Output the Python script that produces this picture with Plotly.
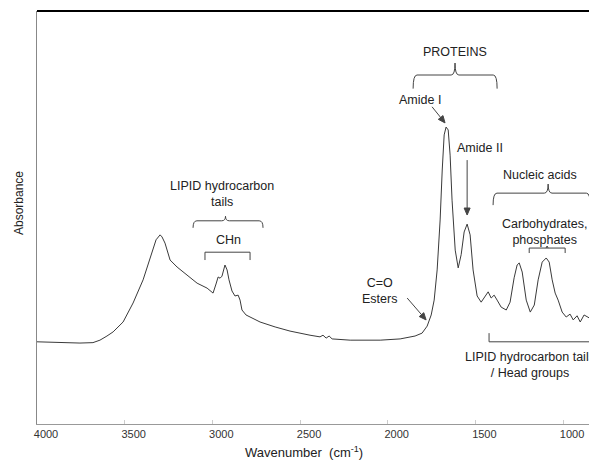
import math
import plotly.graph_objects as go

# FTIR absorbance spectrum (wavenumber in cm-1, absorbance in arbitrary units)
wavenumber = [4000, 3869, 3755, 3681, 3641, 3601, 3566, 3509, 3452, 3395, 3344, 3321, 3298,
              3287, 3270, 3241, 3201, 3144, 3087, 3030, 2996, 2979, 2967, 2956, 2945, 2928,
              2916, 2905, 2888, 2871, 2853, 2842, 2831, 2808, 2785, 2728, 2642, 2557, 2443,
              2386, 2369, 2351, 2334, 2317, 2214, 2043, 1929, 1844, 1804, 1775, 1752, 1735,
              1718, 1701, 1689, 1678, 1667, 1655, 1644, 1633, 1615, 1598, 1581, 1564, 1547,
              1530, 1513, 1490, 1467, 1444, 1427, 1410, 1393, 1376, 1353, 1324, 1302, 1279,
              1262, 1250, 1233, 1210, 1187, 1164, 1142, 1119, 1096, 1079, 1062, 1045, 1028,
              1005, 982, 960, 942, 920, 902, 880, 851]
absorbance = [0.199, 0.197, 0.196, 0.197, 0.203, 0.213, 0.223, 0.247, 0.293, 0.349, 0.414,
              0.446, 0.458, 0.453, 0.438, 0.397, 0.380, 0.361, 0.341, 0.329, 0.317, 0.339,
              0.356, 0.353, 0.358, 0.385, 0.373, 0.349, 0.322, 0.310, 0.312, 0.300, 0.276,
              0.264, 0.259, 0.247, 0.235, 0.225, 0.215, 0.211, 0.215, 0.208, 0.213, 0.206,
              0.203, 0.203, 0.206, 0.213, 0.220, 0.237, 0.264, 0.300, 0.373, 0.494, 0.615,
              0.700, 0.719, 0.712, 0.651, 0.542, 0.421, 0.378, 0.410, 0.465, 0.484, 0.458,
              0.373, 0.310, 0.295, 0.310, 0.320, 0.305, 0.312, 0.300, 0.283, 0.276, 0.295,
              0.354, 0.385, 0.390, 0.368, 0.300, 0.271, 0.288, 0.349, 0.392, 0.402, 0.392,
              0.349, 0.317, 0.300, 0.271, 0.259, 0.266, 0.252, 0.262, 0.247, 0.264, 0.257]

tick_values = [4000, 3500, 3000, 2500, 2000, 1500, 1000]
tick_labels = ["4000", "3500", "3000", "2500", "2000", "1500", "1000"]

FONT = "Arial, Liberation Sans, sans-serif"
INK = "#222222"
LINE = "#444444"

X_RANGE = [4000, 852]
Y_RANGE = [0, 1]
WIDTH, HEIGHT = 589, 464
MARGIN = dict(l=37, r=0, t=11, b=40)

# pixels per data unit, used to shape the arrowheads
KX = (WIDTH - MARGIN["l"] - MARGIN["r"]) / (X_RANGE[0] - X_RANGE[1])
KY = (HEIGHT - MARGIN["t"] - MARGIN["b"]) / (Y_RANGE[1] - Y_RANGE[0])

fig = go.Figure()
fig.add_trace(go.Scatter(x=wavenumber, y=absorbance, mode="lines",
                         line=dict(color="#3a3a3a", width=1), hoverinfo="skip",
                         showlegend=False))


def brace(x_left, x_right, x_mid, y_line, y_end, y_tip, r=22):
    """Curly brace path in data coordinates (x_left > x_right on the reversed axis)."""
    return (f"M {x_left},{y_end} Q {x_left},{y_line} {x_left - r},{y_line} "
            f"L {x_mid + r},{y_line} Q {x_mid},{y_line} {x_mid},{y_tip} "
            f"Q {x_mid},{y_line} {x_mid - r},{y_line} "
            f"L {x_right + r},{y_line} Q {x_right},{y_line} {x_right},{y_end}")


def bracket(x_left, x_right, y_line, y_end):
    return f"M {x_left},{y_end} L {x_left},{y_line} L {x_right},{y_line} L {x_right},{y_end}"


def arrow(head, tail, length=7.0, half=3.0):
    """Shaft and filled head of a pointer, built in screen space and mapped back to data."""
    hx, hy = -head[0] * KX, head[1] * KY
    tx, ty = -tail[0] * KX, tail[1] * KY
    dx, dy = hx - tx, hy - ty
    n = math.hypot(dx, dy)
    dx, dy = dx / n, dy / n
    bx, by = hx - dx * length, hy - dy * length
    pts = [(bx - dy * half, by + dx * half), (bx + dy * half, by - dx * half)]
    to_data = lambda p: (-p[0] / KX, p[1] / KY)
    (ax1, ay1), (ax2, ay2) = map(to_data, pts)
    bxd, byd = to_data((bx, by))
    shaft = f"M {tail[0]},{tail[1]} L {bxd},{byd}"
    tip = f"M {head[0]},{head[1]} L {ax1},{ay1} L {ax2},{ay2} Z"
    return shaft, tip


shape_style = dict(type="path", xref="x", yref="y", line=dict(color=LINE, width=1))

# Braces and brackets grouping the band regions
fig.add_shape(path=brace(1855, 1376, 1616, 0.845, 0.812, 0.874), **shape_style)
fig.add_shape(path=brace(3110, 2711, 2925, 0.492, 0.475, 0.503), **shape_style)
fig.add_shape(path=bracket(3042, 2785, 0.416, 0.397), **shape_style)
fig.add_shape(path=brace(1399, 845, 1085, 0.559, 0.530, 0.581), **shape_style)
fig.add_shape(path=bracket(1193, 988, 0.426, 0.414), **shape_style)
fig.add_shape(path="M 1097,0.426 L 1091,0.431 L 1085,0.426", **shape_style)
fig.add_shape(path=bracket(1422, 820, 0.199, 0.220), **shape_style)

# Pointers to Amide I, Amide II and the ester carbonyl band
for head, tail in [((1673, 0.729), (1747, 0.768)),
                   ((1547, 0.506), (1547, 0.639)),
                   ((1781, 0.252), (1889, 0.305))]:
    shaft, tip = arrow(head, tail)
    fig.add_shape(path=shaft, **shape_style)
    fig.add_shape(type="path", xref="x", yref="y", path=tip, fillcolor=LINE,
                  line=dict(color=LINE, width=1))

# Top frame line
fig.add_shape(type="line", xref="paper", yref="paper", x0=0, x1=1, y0=1, y1=1,
              line=dict(color="black", width=2))

labels = [
    ("PROTEINS", 1616, 0.901),
    ("Amide I", 1815, 0.785),
    ("Amide II", 1473, 0.668),
    ("Nucleic acids", 1131, 0.603),
    ("Carbohydrates,<br>phosphates", 1108, 0.464),
    ("C=O<br>Esters", 2049, 0.321),
    ("LIPID hydrocarbon tails<br>/ Head groups", 1188, 0.143),
    ("LIPID hydrocarbon<br>tails", 2945, 0.557),
    ("CHn", 2910, 0.446),
]
for text, x, y in labels:
    fig.add_annotation(x=x, y=y, xref="x", yref="y", text=text, showarrow=False,
                       font=dict(family=FONT, size=12.5, color=INK), align="center")

# Axis titles
fig.add_annotation(x=0.484, y=-0.068, xref="paper", yref="paper",
                   text="Wavenumber  (cm<sup>-1</sup>)", showarrow=False,
                   font=dict(family=FONT, size=13, color=INK),
                   xanchor="center", yanchor="middle")
fig.add_annotation(x=-0.0326, y=0.535, xref="paper", yref="paper", text="Absorbance",
                   textangle=-90, showarrow=False, xanchor="center", yanchor="middle",
                   font=dict(family=FONT, size=12, color=INK))

fig.update_xaxes(range=X_RANGE, tickvals=tick_values, ticktext=tick_labels,
                 showgrid=False, zeroline=False, showline=True, linecolor="#999999",
                 linewidth=1, ticks="inside", ticklen=4, tickcolor="#cccccc",
                 tickfont=dict(family=FONT, size=11, color="#333333"),
                 ticklabelshift=-9)
fig.update_yaxes(range=Y_RANGE, showgrid=False, zeroline=False, showline=True,
                 linecolor="#888888", linewidth=1, showticklabels=False, ticks="")

fig.update_layout(width=WIDTH, height=HEIGHT, margin=MARGIN,
                  paper_bgcolor="white", plot_bgcolor="white", showlegend=False)

fig.write_html("out.html")
